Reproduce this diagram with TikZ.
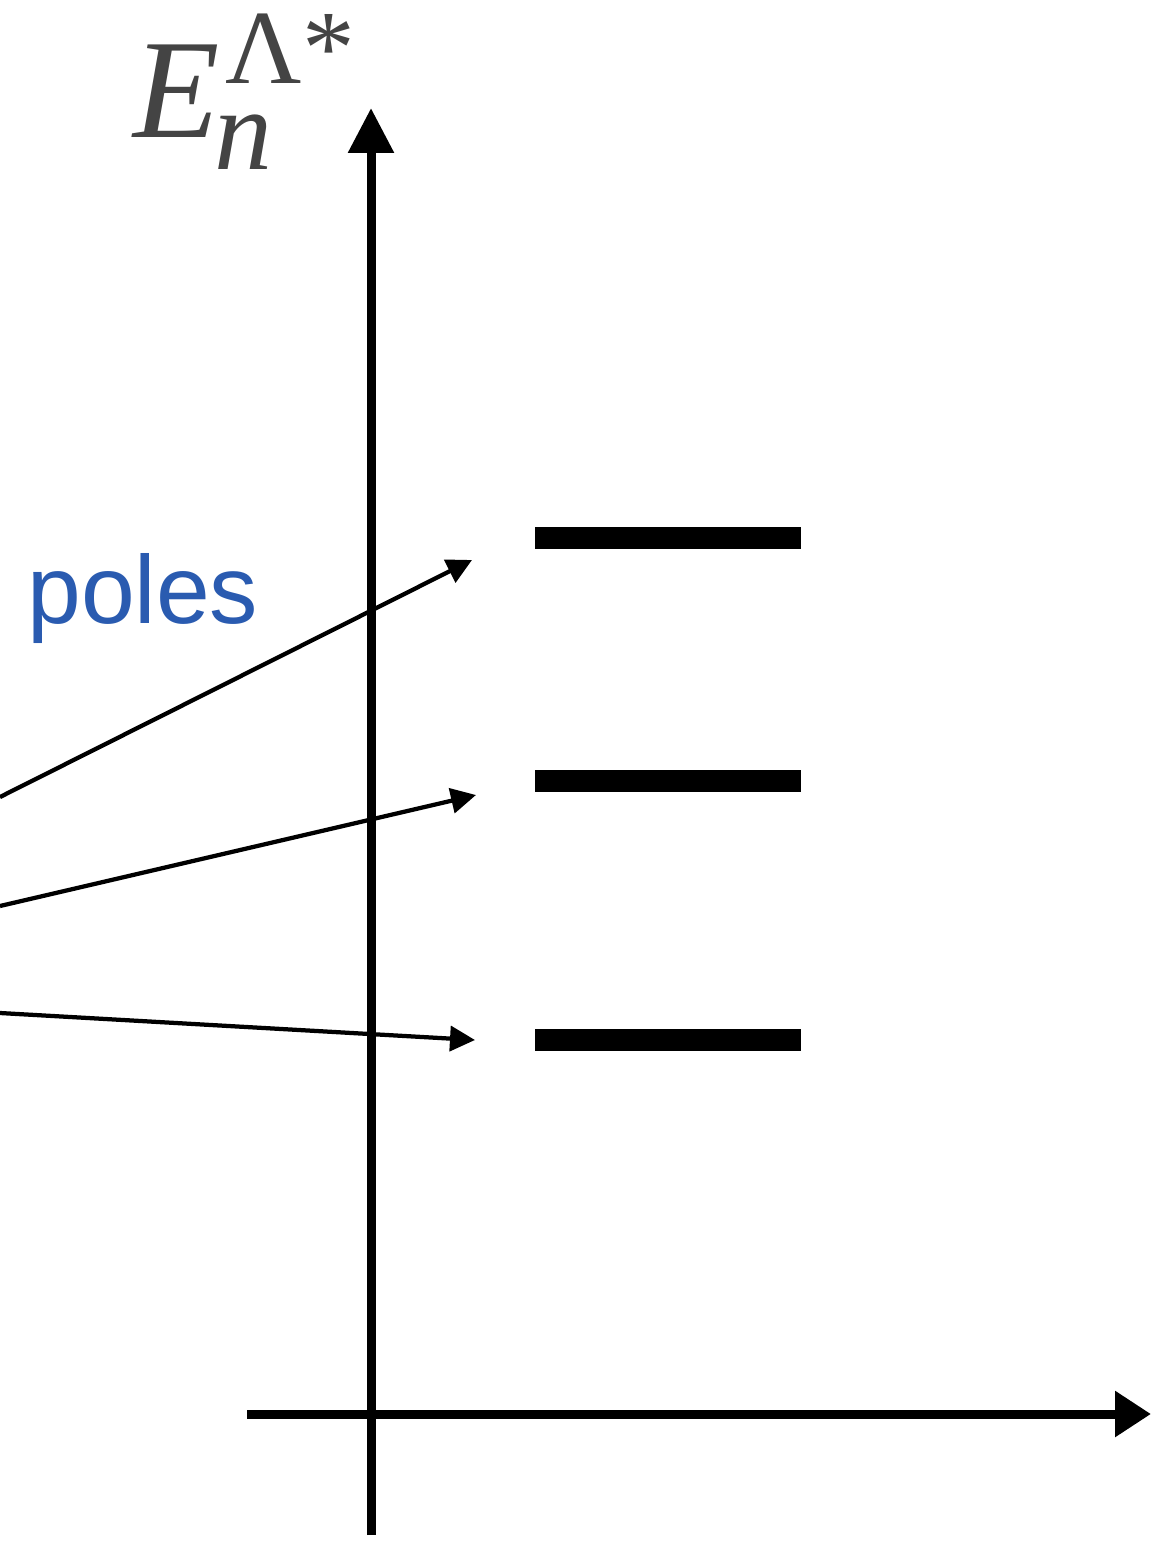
\RequirePackage{fix-cm}
\documentclass[tikz,border=0pt]{standalone}
\usepackage{fontspec}
\newfontfamily\polesfont{Liberation Sans}
\newfontfamily\eqfont{Liberation Serif}
\usepackage{xcolor}
\usetikzlibrary{arrows.meta,positioning}

\definecolor{labelgray}{HTML}{444444}
\definecolor{polesblue}{HTML}{2A5BB0}

\begin{document}
\begin{tikzpicture}[
  x=0.02cm, y=-0.02cm,
  axis/.style={line width=0.18cm},
  level/.style={fill=black,inner sep=0pt,
                minimum width=5.32cm,minimum height=0.44cm},
  ptr/.style={line width=0.085cm,-{Triangle[length=0.5cm,width=0.5cm]}},
  lbl/.style={inner sep=0pt,anchor=base west}
]
\useasboundingbox (0,0) rectangle (1151,1542);

%% Axes
\coordinate (ybot) at (371,1535);
\coordinate (ytop) at (371,108);
\coordinate (xleft) at (247,1414);
\coordinate (xright) at (1151,1414);
\draw[axis,-{Triangle[length=0.9cm,width=0.88cm]}] (ybot) -- (ytop);
\draw[axis,-{Triangle[length=0.72cm,width=0.88cm]}] (xleft) -- (xright);

%% Labels
\node[lbl,text=labelgray,font=\eqfont\fontsize{80.5}{90}\selectfont] (elabel) at (133,137)
  {\itshape E\rlap{\kern3.4pt\raisebox{30.6pt}{\upshape\fontsize{60}{62}\selectfont Λ*}}%
   \kern-2.8pt\raisebox{-18.7pt}{\itshape\fontsize{66}{70}\selectfont n}};
\node[lbl,text=polesblue,font=\polesfont\fontsize{55}{60}\selectfont] (poles) at (27,623) {poles};

%% Levels
\node[level] (lvA) at (668,538)  {};
\node[level] (lvB) at (668,781)  {};
\node[level] (lvC) at (668,1040) {};

%% Arrows to the levels
\coordinate (srcA) at (0,797);
\coordinate (srcB) at (0,906);
\coordinate (srcC) at (0,1013);
\coordinate (tipA) at (472,560);
\coordinate (tipB) at (476,795);
\coordinate (tipC) at (475,1040);
\draw[ptr] (srcA) -- (tipA);
\draw[ptr] (srcB) -- (tipB);
\draw[ptr] (srcC) -- (tipC);

\end{tikzpicture}
\end{document}
